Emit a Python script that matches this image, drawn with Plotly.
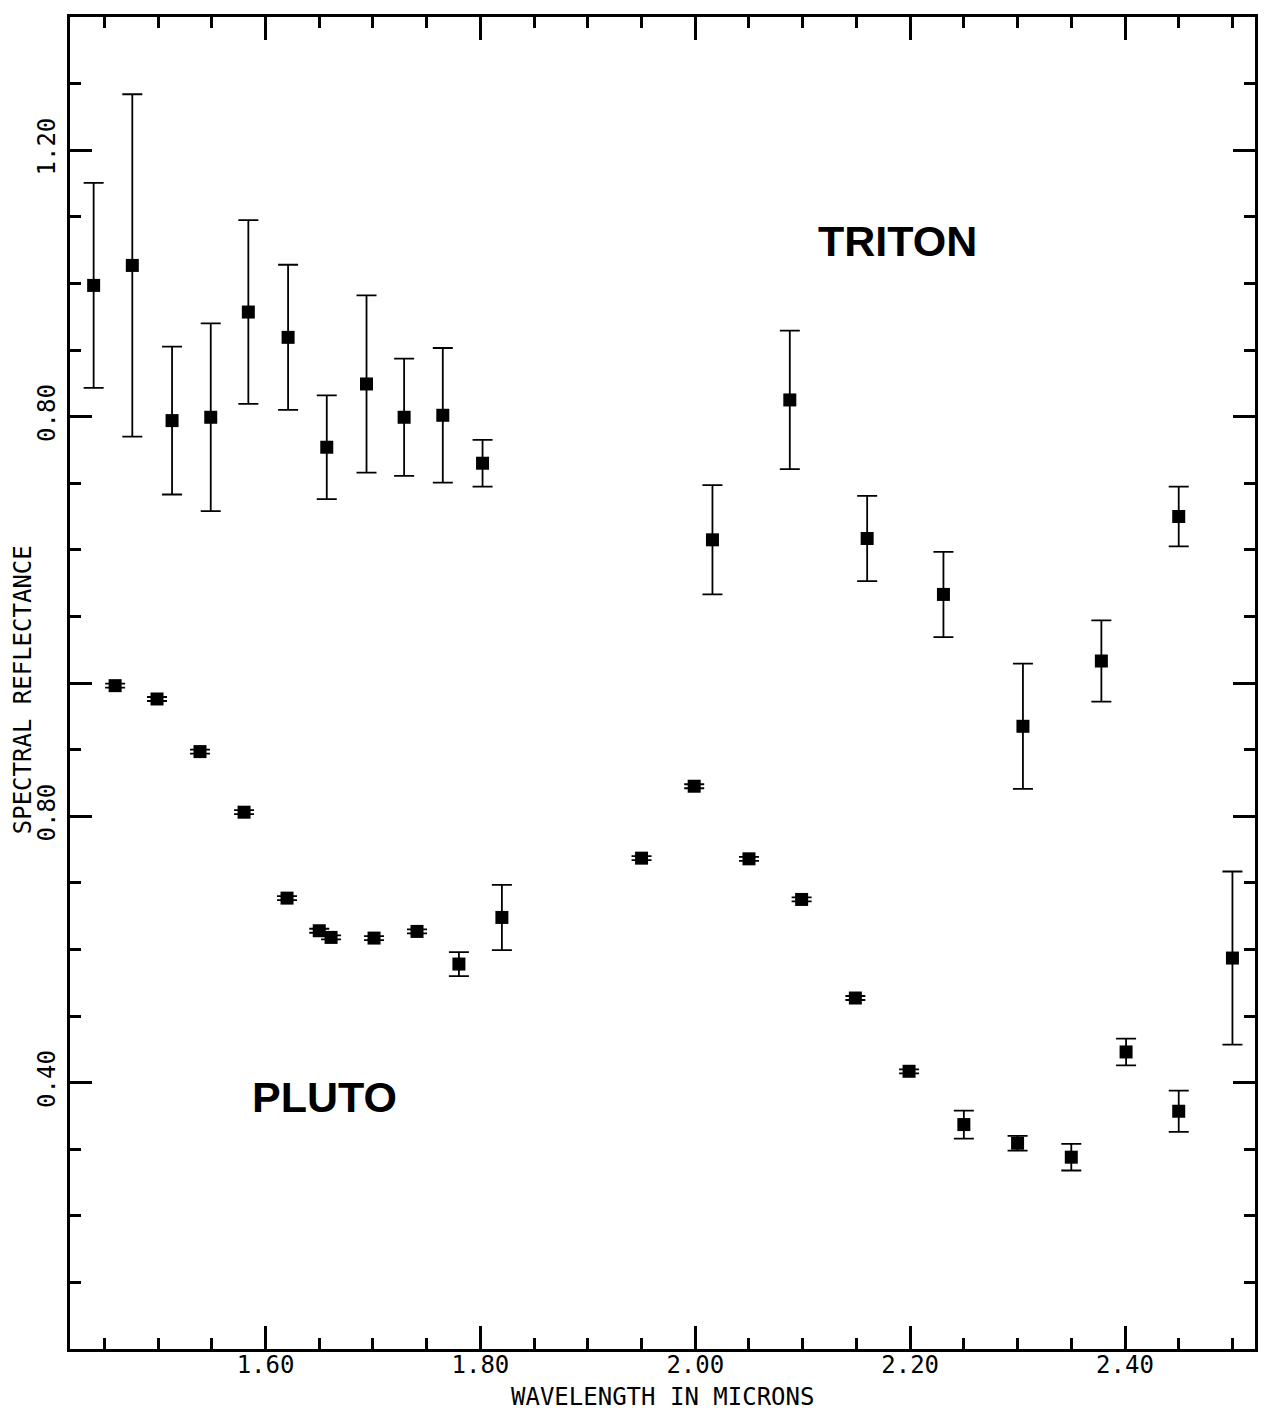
import plotly.graph_objects as go

# ---- data (reflectance; Triton plotted with a vertical offset) ----
pluto_wl = [1.460, 1.499, 1.539, 1.580, 1.620, 1.650, 1.661, 1.701, 1.741, 1.780, 1.820,
            1.950, 1.999, 2.050, 2.099, 2.149, 2.199, 2.250, 2.300, 2.350, 2.401, 2.450, 2.500]
pluto_refl = [0.996, 0.976, 0.897, 0.806, 0.677, 0.628, 0.618, 0.617, 0.627, 0.578, 0.648,
              0.737, 0.845, 0.736, 0.675, 0.527, 0.417, 0.337, 0.309, 0.288, 0.446, 0.357, 0.587]
pluto_err = [0.003, 0.003, 0.003, 0.003, 0.003, 0.003, 0.003, 0.003, 0.003, 0.018, 0.049,
             0.003, 0.003, 0.003, 0.003, 0.003, 0.003, 0.021, 0.011, 0.020, 0.020, 0.031, 0.130]

triton_wl = [1.440, 1.476, 1.513, 1.549, 1.584, 1.621, 1.657, 1.694, 1.729, 1.765, 1.802,
             2.016, 2.088, 2.160, 2.231, 2.305, 2.378, 2.450]
triton_refl = [0.997, 1.027, 0.794, 0.799, 0.957, 0.919, 0.754, 0.849, 0.799, 0.802, 0.730,
               0.615, 0.825, 0.617, 0.533, 0.335, 0.433, 0.650]
triton_err = [0.154, 0.257, 0.111, 0.141, 0.138, 0.109, 0.078, 0.133, 0.088, 0.101, 0.035,
              0.082, 0.104, 0.064, 0.064, 0.094, 0.061, 0.045]
triton_offset = 0.6

x_tick_vals = [1.60, 1.80, 2.00, 2.20, 2.40]
x_tick_text = ["1.60", "1.80", "2.00", "2.20", "2.40"]
pluto_tick_vals = [0.40, 0.80]
triton_tick_vals = [0.40, 0.80, 1.20]
triton_tick_text = ["", "0.80", "1.20"]

x_title = "WAVELENGTH IN MICRONS"
y_title = "SPECTRAL REFLECTANCE"

mono = "DejaVu Sans Mono"

fig = go.Figure()

def add_series(xs, ys, errs, name):
    fig.add_trace(go.Scatter(
        x=xs, y=ys, mode="markers", name=name,
        marker=dict(symbol="square", size=13, color="black"),
        error_y=dict(type="data", array=errs, visible=True, color="black",
                     thickness=1.8, width=10),
        showlegend=False,
    ))

add_series(pluto_wl, pluto_refl, pluto_err, "Pluto")
add_series(triton_wl, [v + triton_offset for v in triton_refl], triton_err, "Triton")

y_tick_vals = pluto_tick_vals + [v + triton_offset for v in triton_tick_vals]
y_tick_text = ["%.2f" % v for v in pluto_tick_vals] + triton_tick_text

fig.update_xaxes(
    range=[1.418, 2.521], tickvals=x_tick_vals, ticktext=x_tick_text,
    ticks="inside", ticklen=23, tickwidth=2.5, tickcolor="black",
    minor=dict(dtick=0.05, tick0=1.40, ticks="inside", ticklen=11, tickwidth=2.5,
               tickcolor="black", showgrid=False),
    showline=True, linecolor="black", linewidth=3, mirror="ticks",
    showgrid=False, zeroline=False, automargin=False,
    tickfont=dict(family=mono, size=24, color="black"),
    ticklabelstandoff=-8,
)
fig.update_yaxes(
    range=[0.0, 2.0], tickvals=y_tick_vals, ticktext=y_tick_text,
    ticks="inside", ticklen=22, tickwidth=2.5, tickcolor="black", tickangle=-90,
    minor=dict(dtick=0.1, tick0=0.0, ticks="inside", ticklen=11, tickwidth=2.5,
               tickcolor="black", showgrid=False),
    showline=True, linecolor="black", linewidth=3, mirror="ticks",
    showgrid=False, zeroline=False, automargin=False,
    tickfont=dict(family=mono, size=24, color="black"),
    ticklabelstandoff=2,
)

title_font = dict(family=mono, size=24, color="black")
fig.add_annotation(xref="paper", yref="paper", x=0.5, y=-0.036, text=x_title,
                   showarrow=False, font=title_font, xanchor="center", yanchor="middle")
fig.add_annotation(xref="paper", yref="paper", x=-0.0395, y=0.4947, text=y_title,
                   showarrow=False, font=title_font, textangle=-90,
                   xanchor="center", yanchor="middle")

label_font = dict(family="Liberation Sans", size=43, color="black", weight="bold")
fig.add_annotation(x=2.1885, y=1.664, text="TRITON", showarrow=False, font=label_font,
                   xanchor="center", yanchor="middle")
fig.add_annotation(x=1.655, y=0.378, text="PLUTO", showarrow=False, font=label_font,
                   xanchor="center", yanchor="middle")

fig.update_layout(
    width=1273, height=1411,
    margin=dict(l=70, r=18, t=17, b=62, pad=0),
    paper_bgcolor="white", plot_bgcolor="white",
)

fig.write_html("out.html", config={"displayModeBar": False},
               post_script="document.body.style.margin='0';")
